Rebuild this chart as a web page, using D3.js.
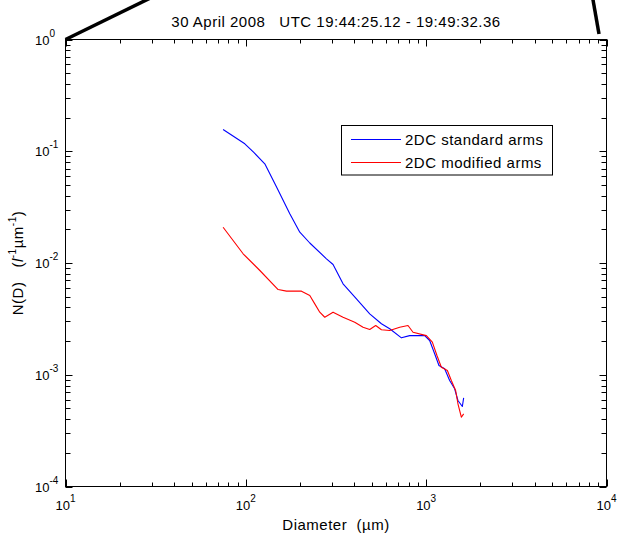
<!DOCTYPE html>
<html>
<head>
<meta charset="utf-8">
<script src="https://cdn.jsdelivr.net/npm/d3@7"></script>
<style>
  body { margin: 0; background: #fff; }
  text { font-family: "Liberation Sans", Arial, sans-serif; fill: #000; white-space: pre; }
</style>
</head>
<body>
<script>
// size distributions (diameter in um, N(D) in l^-1 um^-1)
const diamBlue = [74.8, 98.7, 110.7, 127.4, 148.5, 175.3, 199.2, 226.3, 280, 304.6, 346, 410.6, 486.4, 564.8, 627.9,
    729.1, 810.3, 981, 1045.6, 1114.5, 1177.4, 1266.3, 1349.6, 1438.6, 1500.5, 1587, 1614];
const nBlue = [0.1565, 0.1166, 0.0975, 0.0772, 0.0474, 0.02756, 0.01886, 0.0151, 0.0109, 0.0097, 0.00651, 0.00478, 0.00351, 0.00286, 0.00258,
    0.00214, 0.00224, 0.00224, 0.002025, 0.00154, 0.00121, 0.00113, 0.000888, 0.000749, 0.000588, 0.00052, 0.000622];

const diamRed = [74.8, 96.6, 119.6, 151, 168.1, 203.5, 226.3, 241.2, 257, 274, 304.6, 346, 401.8, 446.7, 486.4, 525,
    564.8, 627.9, 713.3, 792.9, 845.5, 1002.5, 1082, 1147.7, 1214, 1311, 1379, 1457, 1500.5, 1567, 1614];
const nRed = [0.0209, 0.01209, 0.00857, 0.00579, 0.0056, 0.0056, 0.00512, 0.00431, 0.00363, 0.00327, 0.00363, 0.00327, 0.00295, 0.00266, 0.00254, 0.00276,
    0.00253, 0.00249, 0.00266, 0.00276, 0.0024, 0.00224, 0.001956, 0.001487, 0.001168, 0.00109, 0.000888, 0.000723, 0.00055, 0.000417, 0.000447];

const seriesNames = ["2DC standard arms", "2DC modified arms"];
const seriesColors = ["#0000ff", "#ff0000"];
const xTickExp = [1, 2, 3, 4];
const yTickExp = [-4, -3, -2, -1, 0];
const title = "30 April 2008   UTC 19:44:25.12 - 19:49:32.36";

const W = 617, H = 538;
const svg = d3.select("body").append("svg")
    .attr("width", W)
    .attr("height", H);

// log scales
const x = d3.scaleLog().domain([10, 1e4]).range([65.5, 606.5]);
const y = d3.scaleLog().domain([1e-4, 1]).range([486.5, 39.5]);
const [x0, x1] = x.range();
const [y0, y1] = y.range();

// connector lines of the zoom annotation
svg.append("line")
    .attr("x1", x0).attr("y1", y1)
    .attr("x2", x0 + 90).attr("y2", y1 - 44)
    .attr("stroke", "#000").attr("stroke-width", 3.5);
svg.append("line")
    .attr("x1", 592.5).attr("y1", -3)
    .attr("x2", 599).attr("y2", 34)
    .attr("stroke", "#000").attr("stroke-width", 3.5);

// title
svg.append("text")
    .attr("x", (x0 + x1) / 2).attr("y", 27)
    .attr("text-anchor", "middle")
    .style("font-size", "15px")
    .style("letter-spacing", "0.5px")
    .text(title);

// ticks, inward on all four sides
const ticksG = svg.append("g").attr("stroke", "#000").attr("stroke-width", 1);
const isMajor = v => Math.abs(Math.log10(v) - Math.round(Math.log10(v))) < 1e-9;

x.ticks().forEach(v => {
    const px = Math.round(x(v)) + 0.5;
    const len = isMajor(v) ? 7 : 4;
    ticksG.append("line").attr("x1", px).attr("x2", px).attr("y1", y0).attr("y2", y0 - len);
    ticksG.append("line").attr("x1", px).attr("x2", px).attr("y1", y1).attr("y2", y1 + len);
});
y.ticks().forEach(v => {
    const py = Math.round(y(v)) + 0.5;
    const len = isMajor(v) ? 7 : 5;
    ticksG.append("line").attr("x1", x0).attr("x2", x0 + len).attr("y1", py).attr("y2", py);
    ticksG.append("line").attr("x1", x1).attr("x2", x1 - len).attr("y1", py).attr("y2", py);
});

// axes box
svg.append("rect")
    .attr("x", x0).attr("y", y1)
    .attr("width", x1 - x0).attr("height", y0 - y1)
    .attr("fill", "none")
    .attr("stroke", "#000")
    .attr("stroke-width", 1);

// tick labels
xTickExp.forEach(e => {
    const t = svg.append("text")
        .attr("x", x(Math.pow(10, e)))
        .attr("y", 510)
        .attr("text-anchor", "middle")
        .style("font-size", "13px");
    t.append("tspan").text("10");
    t.append("tspan").attr("dy", -8).style("font-size", "10px").text(e);
});
yTickExp.forEach(e => {
    const t = svg.append("text")
        .attr("x", 35)
        .attr("y", y(Math.pow(10, e)) + 5)
        .style("font-size", "13px");
    t.append("tspan").text("10");
    t.append("tspan").attr("dy", -8).style("font-size", "10px").text(e);
});

// axis labels
svg.append("text")
    .attr("x", (x0 + x1) / 2).attr("y", 530)
    .attr("text-anchor", "middle")
    .style("font-size", "15px")
    .style("letter-spacing", "0.5px")
    .text("Diameter  (\u00b5m)");

const yl = svg.append("text")
    .attr("transform", "translate(23,263) rotate(-90)")
    .attr("text-anchor", "middle")
    .style("font-size", "15px")
    .style("letter-spacing", "0.5px");
yl.append("tspan").text("N(D)   (");
yl.append("tspan").style("font-style", "italic").text("l");
yl.append("tspan").attr("dy", -7).style("font-size", "10px").text("-1");
yl.append("tspan").attr("dy", 7).text("\u00b5m");
yl.append("tspan").attr("dy", -7).style("font-size", "10px").text("-1");
yl.append("tspan").attr("dy", 7).text(")");

// data lines
const line = d3.line()
    .x(d => x(d[0]))
    .y(d => y(d[1]));

const series = [
    d3.zip(diamBlue, nBlue),
    d3.zip(diamRed, nRed)
];

series.forEach((s, i) => {
    svg.append("path")
        .datum(s)
        .attr("fill", "none")
        .attr("stroke", seriesColors[i])
        .attr("stroke-width", 1.1)
        .attr("stroke-linejoin", "round")
        .attr("d", line);
});

// legend
const lg = svg.append("g").attr("transform", "translate(341.5,125.5)");
lg.append("rect")
    .attr("width", 211).attr("height", 49.5)
    .attr("fill", "#fff")
    .attr("stroke", "#000")
    .attr("stroke-width", 1);
seriesNames.forEach((name, i) => {
    const ry = 14 + i * 23;
    lg.append("line")
        .attr("x1", 9.5).attr("x2", 59.5)
        .attr("y1", ry).attr("y2", ry)
        .attr("stroke", seriesColors[i])
        .attr("stroke-width", 1.1);
    lg.append("text")
        .attr("x", 63.5).attr("y", ry + 5)
        .style("font-size", "15px")
        .style("letter-spacing", "0.5px")
        .text(name);
});
</script>
</body>
</html>
